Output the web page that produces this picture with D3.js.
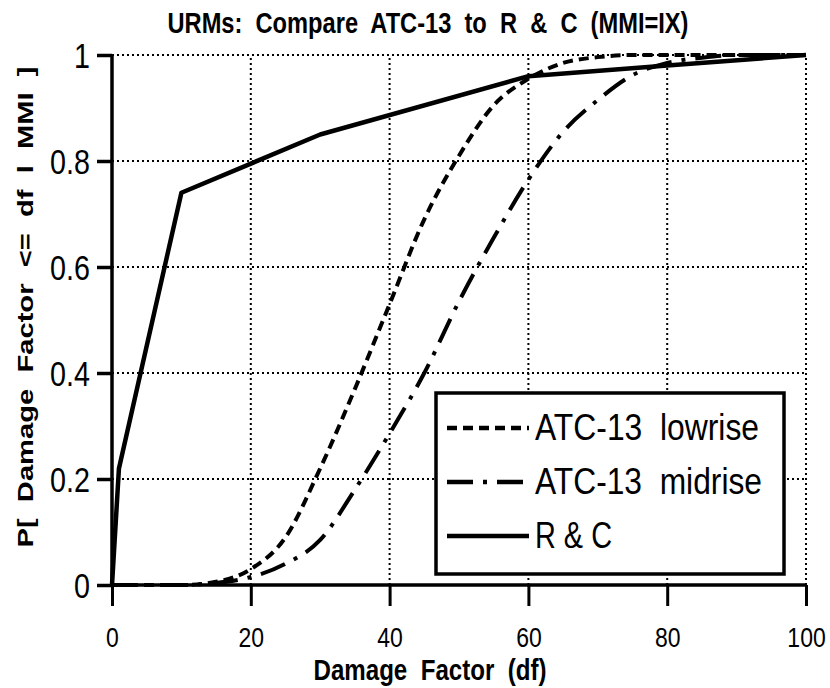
<!DOCTYPE html>
<html>
<head>
<meta charset="utf-8">
<script src="https://cdn.jsdelivr.net/npm/d3@7"></script>
<style>
  html, body { margin: 0; padding: 0; background: #fff; }
  svg { display: block; }
  text { font-family: "Liberation Sans Narrow", "Arial Narrow", "Liberation Sans", Arial, sans-serif; fill: #000; }
</style>
</head>
<body>
<svg id="chart" width="830" height="688"></svg>
<script>
// Damage factor grid (percent) and cumulative probabilities for each curve
const lowriseDf = [0, 10, 15, 20, 25, 30, 35, 40, 45, 50, 55, 60, 65, 70, 75, 80, 100];
const lowriseP  = [0, 0.0, 0.006, 0.03, 0.09, 0.22, 0.37, 0.53, 0.69, 0.81, 0.905, 0.955, 0.985, 0.996, 1.0, 1.0, 1.0];

const midriseDf = [0, 10, 15, 20, 25, 30, 35, 40, 45, 50, 55, 60, 65, 70, 75, 80, 85, 90, 100];
const midriseP  = [0, 0.0, 0.004, 0.015, 0.04, 0.085, 0.18, 0.286, 0.40, 0.535, 0.655, 0.765, 0.855, 0.915, 0.962, 0.985, 0.995, 1.0, 1.0];

const rcDf = [0, 1, 10, 30, 60, 80, 100];
const rcP  = [0, 0.22, 0.74, 0.85, 0.96, 0.98, 1.0];

const xTicks = [0, 20, 40, 60, 80, 100];
const yTicks = [0, 0.2, 0.4, 0.6, 0.8, 1];
const yTickLabels = ["0", "0.2", "0.4", "0.6", "0.8", "1"];

const seriesNames = ["ATC-13  lowrise", "ATC-13  midrise", "R & C"];
const seriesDash = ["10,6", "26,10,4,10", null];
const legendTextWidths = [224, 227, 77];

const titleText = "URMs:  Compare  ATC-13  to  R  &  C  (MMI=IX)";
const xTitle = "Damage  Factor  (df)";
const yTitle = "P[  Damage  Factor  <=  df  l  MMI  ]";

const svg = d3.select("#chart");
const x = d3.scaleLinear().domain([0, 100]).range([112, 806]);
const y = d3.scaleLinear().domain([0, 1]).range([585, 55]);

// squeeze a text run horizontally so it reads as a condensed face
function condense(sel, factor) {
  sel.each(function () {
    const w = this.getComputedTextLength();
    d3.select(this).attr("textLength", w * factor).attr("lengthAdjust", "spacingAndGlyphs");
  });
}

// dotted grid, including the top and right frame edges
const grid = svg.append("g").attr("stroke", "#000").attr("stroke-width", 2).attr("stroke-dasharray", "2,3");
grid.selectAll("line.gx").data(xTicks.filter(d => d > 0)).join("line")
  .attr("x1", d => x(d)).attr("x2", d => x(d)).attr("y1", y(0)).attr("y2", y(1));
grid.selectAll("line.gy").data(yTicks.filter(d => d > 0)).join("line")
  .attr("x1", x(0)).attr("x2", x(100)).attr("y1", d => y(d)).attr("y2", d => y(d));

// axes
const xAxis = d3.axisBottom(x).tickValues(xTicks).tickSize(21).tickFormat(d3.format("d"));
const yAxis = d3.axisLeft(y).tickValues(yTicks).tickSize(15).tickPadding(7).tickFormat((d, i) => yTickLabels[i]);

const gx = svg.append("g").attr("transform", `translate(0,${y(0)})`).call(xAxis);
gx.select(".domain").attr("stroke-width", 3.5).attr("d", `M${x(0)},0H${x(100)}`);
gx.selectAll(".tick line").attr("stroke-width", 3);
gx.selectAll(".tick text").attr("font-family", null).attr("font-size", 28)
  .attr("y", 62).attr("dy", null).call(condense, 0.82);

const gy = svg.append("g").attr("transform", `translate(${x(0)},0)`).call(yAxis);
gy.select(".domain").attr("stroke-width", 3.5).attr("d", `M0,${y(0)}V${y(1)}`);
gy.selectAll(".tick line").attr("stroke-width", 3.5);
gy.selectAll(".tick text").attr("font-family", null).attr("font-size", 35)
  .attr("dy", "0.36em").call(condense, 0.82);

// curves
const line = d3.line().x(d => x(d[0])).y(d => y(d[1]));
const lineSmooth = d3.line().x(d => x(d[0])).y(d => y(d[1])).curve(d3.curveMonotoneX);

const curves = [
  { pts: d3.zip(lowriseDf, lowriseP), gen: lineSmooth, dash: seriesDash[0], w: 4 },
  { pts: d3.zip(midriseDf, midriseP), gen: lineSmooth, dash: seriesDash[1], w: 4 },
  { pts: d3.zip(rcDf, rcP), gen: line, dash: seriesDash[2], w: 4.5 }
];
svg.append("g").selectAll("path").data(curves).join("path")
  .attr("d", d => d.gen(d.pts))
  .attr("fill", "none").attr("stroke", "#000")
  .attr("stroke-width", d => d.w)
  .attr("stroke-linejoin", "round")
  .attr("stroke-dasharray", d => d.dash);

// legend
const lg = svg.append("g");
lg.append("rect").attr("x", 436).attr("y", 393).attr("width", 348).attr("height", 181)
  .attr("fill", "#fff").attr("stroke", "#000").attr("stroke-width", 3.5);
const rows = lg.selectAll("g.row").data(seriesNames).join("g")
  .attr("transform", (d, i) => `translate(0,${440 + i * 54})`);
rows.append("line").attr("x1", 447).attr("x2", 529).attr("y1", -12).attr("y2", -12)
  .attr("stroke", "#000").attr("stroke-width", 4.5)
  .attr("stroke-dasharray", (d, i) => seriesDash[i]);
rows.append("text").attr("x", 535).attr("y", 0)
  .attr("font-size", 36).style("white-space", "pre")
  .attr("textLength", (d, i) => legendTextWidths[i]).attr("lengthAdjust", "spacingAndGlyphs")
  .text(d => d);

// titles
svg.append("text").attr("x", 428).attr("y", 33)
  .attr("text-anchor", "middle").attr("font-size", 29).attr("font-weight", "bold")
  .attr("textLength", 521).attr("lengthAdjust", "spacingAndGlyphs")
  .style("white-space", "pre").text(titleText);
svg.append("text").attr("x", 430).attr("y", 680)
  .attr("text-anchor", "middle").attr("font-size", 29).attr("font-weight", "bold")
  .attr("textLength", 233).attr("lengthAdjust", "spacingAndGlyphs")
  .style("white-space", "pre").text(xTitle);
svg.append("text").attr("transform", "translate(33,307) rotate(-90)")
  .attr("text-anchor", "middle").attr("font-size", 22).attr("font-weight", "bold")
  .style("font-family", "'Liberation Sans', Arial, sans-serif")
  .attr("textLength", 481).attr("lengthAdjust", "spacingAndGlyphs")
  .style("white-space", "pre").text(yTitle);
</script>
</body>
</html>
